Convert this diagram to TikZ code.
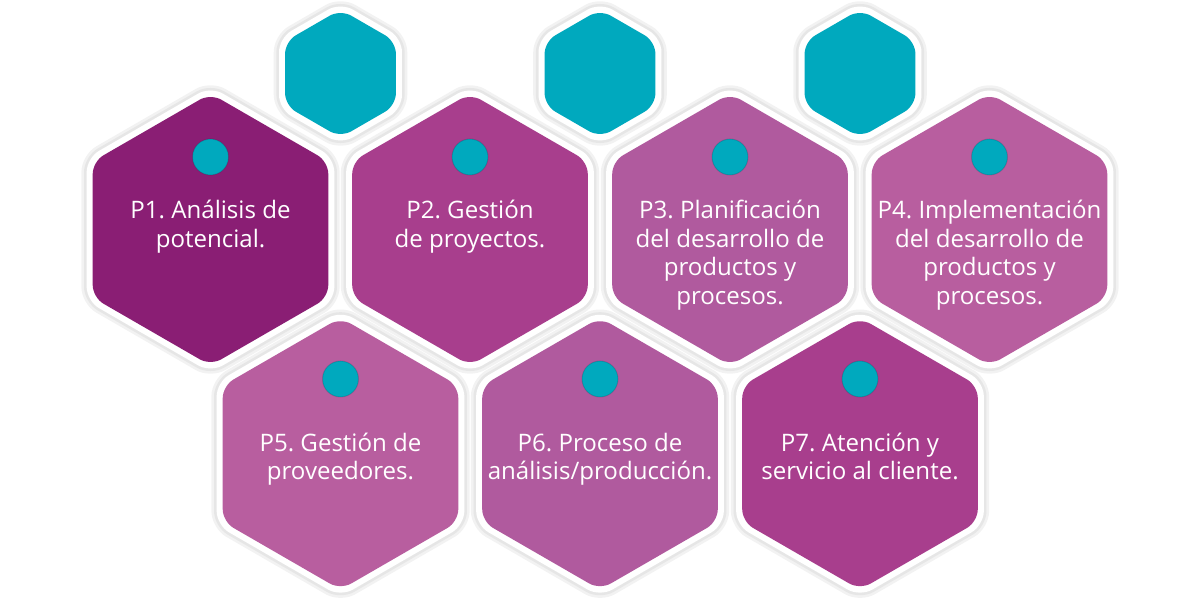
\documentclass[tikz,border=0pt]{standalone}
\usepackage{fontspec}
\setmainfont{Open Sans}
\usepackage{xcolor}
\definecolor{tealhex}{HTML}{00A9BE}
\definecolor{plumA}{HTML}{8A1E74}
\definecolor{plumB}{HTML}{A83E8D}
\definecolor{plumC}{HTML}{B05A9E}
\definecolor{plumD}{HTML}{B85E9F}
\frenchspacing

% hexagon with pointy top: x, y, radius, options
\newcommand{\hexcell}[4]{%
  \path[#4] (#1,#2) +(90:#3) -- +(30:#3) -- +(-30:#3) -- +(-90:#3)
    -- +(-150:#3) -- +(150:#3) -- cycle;}

\tikzset{
  hexhalo/.style={draw=black, draw opacity=0.05, line width=#1, rounded corners=8pt},
  hexrim/.style={fill=white, rounded corners=8pt},
  hexbody/.style={fill=#1, rounded corners=7pt},
  dot/.style={circle, fill=tealhex, minimum size=0.72cm, inner sep=0pt,
    draw=black, draw opacity=0.12, line width=0.6pt},
  hexlabel/.style={anchor=north, inner sep=0pt, align=center, text=white,
    font=\fontsize{13.7pt}{16.4pt}\selectfont}
}

\begin{document}
\begin{tikzpicture}[x=0.02cm, y=-0.02cm]
  \useasboundingbox (0,0) rectangle (1200,607);

  % soft halo round every cell
  \foreach \cx/\cy/\r in {210.5/229.5/143, 470/229.5/143, 730/229.5/143, 989.5/229.5/143,
      340.5/453.7/143, 600/453.7/143, 860/453.7/143,
      340.5/73.5/71, 600/73.5/71, 860/73.5/71} {
    \hexcell{\cx}{\cy}{\r}{hexhalo=6pt}
    \hexcell{\cx}{\cy}{\r}{hexhalo=3pt}
  }

  % white rims
  \foreach \cx/\cy/\r in {210.5/229.5/143, 470/229.5/143, 730/229.5/143, 989.5/229.5/143,
      340.5/453.7/143, 600/453.7/143, 860/453.7/143,
      340.5/73.5/71, 600/73.5/71, 860/73.5/71} {
    \hexcell{\cx}{\cy}{\r}{hexrim}
  }

  % small teal cells on top
  \foreach \cx in {340.5, 600, 860} {
    \hexcell{\cx}{73.5}{64}{hexbody=tealhex}
  }

  % big cells, top row
  \hexcell{210.5}{229.5}{136}{hexbody=plumA}
  \hexcell{470}{229.5}{136}{hexbody=plumB}
  \hexcell{730}{229.5}{136}{hexbody=plumC}
  \hexcell{989.5}{229.5}{136}{hexbody=plumD}

  % big cells, bottom row
  \hexcell{340.5}{453.7}{136}{hexbody=plumD}
  \hexcell{600}{453.7}{136}{hexbody=plumC}
  \hexcell{860}{453.7}{136}{hexbody=plumB}

  % teal dots
  \node[dot] (d1) at (210.5,157) {};
  \node[dot] (d2) at (470,157) {};
  \node[dot] (d3) at (730,157) {};
  \node[dot] (d4) at (989.5,157) {};
  \node[dot] (d5) at (340.5,379) {};
  \node[dot] (d6) at (600,379) {};
  \node[dot] (d7) at (860,379) {};

  % labels
  \node[hexlabel] (p1) at (210.5,197.8) {\strut P1. Análisis de\\potencial.};
  \node[hexlabel] (p2) at (470,197.8) {\strut P2. Gestión\\de proyectos.};
  \node[hexlabel] (p3) at (730,197.8) {\strut P3. Planificación\\del desarrollo de\\productos y\\procesos.};
  \node[hexlabel] (p4) at (989.5,197.8) {\strut P4. Implementación\\del desarrollo de\\productos y\\procesos.};
  \node[hexlabel] (p5) at (340.5,430.5) {\strut P5. Gestión de\\proveedores.};
  \node[hexlabel] (p6) at (600,430.5) {\strut P6. Proceso de\\análisis/producción.};
  \node[hexlabel] (p7) at (860,430.5) {\strut P7. Atención y\\servicio al cliente.};
\end{tikzpicture}
\end{document}
